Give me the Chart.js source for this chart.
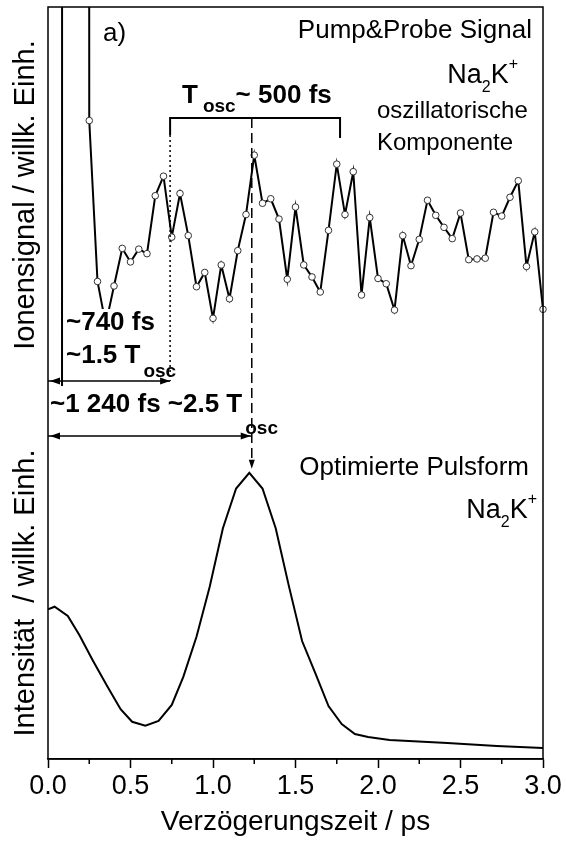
<!DOCTYPE html>
<html>
<head>
<meta charset="utf-8">
<script src="https://cdn.jsdelivr.net/npm/chart.js@4.4.1/dist/chart.umd.min.js"></script>
<style>
  html, body { margin: 0; padding: 0; background: #fff; }
  #wrap { width: 566px; height: 841px; }
</style>
</head>
<body>
<div id="wrap"><canvas id="chart" width="566" height="841"></canvas></div>
<script>
const FONT = '"Liberation Sans", Arial, Helvetica, sans-serif';

// Pump&Probe Signal (Zeit in ps, Ionensignal in willk. Einh.)
// die Werte bei 0.10 - 0.20 liegen weit oberhalb des Bildes
const sigTime = [0.085, 0.10, 0.15, 0.20, 0.25, 0.30, 0.35, 0.40, 0.45, 0.50,
  0.55, 0.60, 0.65, 0.70, 0.75, 0.80, 0.85, 0.90, 0.95, 1.00,
  1.05, 1.10, 1.15, 1.20, 1.25, 1.30, 1.35, 1.40, 1.45, 1.50,
  1.55, 1.60, 1.65, 1.70, 1.75, 1.80, 1.85, 1.90, 1.95, 2.00,
  2.05, 2.10, 2.15, 2.20, 2.25, 2.30, 2.35, 2.40, 2.45, 2.50,
  2.55, 2.60, 2.65, 2.70, 2.75, 2.80, 2.85, 2.90, 2.95, 3.00];
const sigValue = [4.96, 300, 320, 300, 8.49, 6.35, 5.78, 6.29, 6.79, 6.61,
  6.78, 6.72, 7.49, 7.75, 6.94, 7.52, 6.96, 6.28, 6.47, 5.86,
  6.57, 6.12, 6.76, 7.24, 8.03, 7.39, 7.45, 7.18, 6.38, 7.34,
  6.57, 6.41, 6.21, 7.03, 7.91, 7.24, 7.81, 6.17, 7.20, 6.39,
  6.32, 5.97, 6.96, 6.56, 6.91, 7.43, 7.23, 7.07, 6.92, 7.26,
  6.64, 6.65, 6.66, 7.27, 7.22, 7.47, 7.69, 6.55, 7.01, 5.98];

// Optimierte Pulsform (Intensität, auf Maximum normiert)
const pulseTime = [0.00, 0.04, 0.12, 0.19, 0.27, 0.36, 0.44, 0.51, 0.59, 0.67,
  0.75, 0.82, 0.90, 0.98, 1.06, 1.14, 1.22, 1.30, 1.38, 1.46,
  1.54, 1.62, 1.70, 1.78, 1.86, 1.94, 2.07, 2.42, 2.72, 3.00];
const pulseValue = [0.523, 0.532, 0.500, 0.433, 0.346, 0.253, 0.174, 0.130, 0.116, 0.133,
  0.189, 0.287, 0.427, 0.602, 0.806, 0.945, 1.000, 0.945, 0.806, 0.604,
  0.412, 0.300, 0.185, 0.122, 0.087, 0.077, 0.066, 0.056, 0.045, 0.038];

const xTicks = [0.0, 0.5, 1.0, 1.5, 2.0, 2.5, 3.0];
const xMinorTicks = [0.25, 0.75, 1.25, 1.75, 2.25, 2.75];

// Markierungen in ps
const tOscStart = 0.74;
const tOscMid = 1.235;
const tOscEnd = 1.77;

function line(ctx, x1, y1, x2, y2) {
  ctx.beginPath();
  ctx.moveTo(x1, y1);
  ctx.lineTo(x2, y2);
  ctx.stroke();
}

function arrowHead(ctx, x, y, dir) {
  // dir: 'left' | 'right' | 'down'
  ctx.beginPath();
  if (dir === 'left') { ctx.moveTo(x, y); ctx.lineTo(x + 10, y - 3.5); ctx.lineTo(x + 10, y + 3.5); }
  if (dir === 'right') { ctx.moveTo(x, y); ctx.lineTo(x - 10, y - 3.5); ctx.lineTo(x - 10, y + 3.5); }
  if (dir === 'down') { ctx.moveTo(x, y); ctx.lineTo(x - 3, y - 9); ctx.lineTo(x + 3, y - 9); }
  ctx.closePath();
  ctx.fill();
}

// Text aus Teilstücken (für Indizes), parts: [text, font, dy, dx]
function textRuns(ctx, x, y, parts, align) {
  let total = 0;
  parts.forEach(p => { ctx.font = p[1]; total += ctx.measureText(p[0]).width + (p[3] || 0); });
  let cx = align === 'right' ? x - total : x;
  ctx.textAlign = 'left';
  ctx.textBaseline = 'alphabetic';
  parts.forEach(p => {
    ctx.font = p[1];
    cx += p[3] || 0;
    ctx.fillText(p[0], cx, y + (p[2] || 0));
    cx += ctx.measureText(p[0]).width;
  });
}

const annotate = {
  id: 'annotate',
  afterDatasetsDraw(chart) {
    const { ctx, chartArea: a, scales: { x, yPulse } } = chart;
    const px = t => x.getPixelForValue(t);
    ctx.save();
    ctx.strokeStyle = '#000';
    ctx.fillStyle = '#000';

    // Rahmen
    ctx.lineWidth = 1.5;
    ctx.strokeRect(a.left, a.top, a.right - a.left, a.bottom - a.top);

    // Nebenstriche
    xMinorTicks.forEach(t => line(ctx, px(t), a.bottom, px(t), a.bottom + 5));

    // Klammer T_osc
    ctx.lineWidth = 2;
    ctx.beginPath();
    ctx.moveTo(px(tOscStart), 135);
    ctx.lineTo(px(tOscStart), 118);
    ctx.lineTo(px(tOscEnd), 118);
    ctx.lineTo(px(tOscEnd), 138);
    ctx.stroke();

    // gepunktete Linie bei ~740 fs
    ctx.lineWidth = 1.5;
    ctx.setLineDash([2, 3]);
    line(ctx, px(tOscStart), 135, px(tOscStart), 381);

    // gestrichelte Linie zum Pulsmaximum
    const peakY = yPulse.getPixelForValue(1.0);
    ctx.setLineDash([10, 5]);
    line(ctx, px(tOscMid), 118, px(tOscMid), peakY - 12);
    ctx.setLineDash([]);
    arrowHead(ctx, px(tOscMid), peakY - 4, 'down');

    // Doppelpfeile
    ctx.lineWidth = 1.5;
    line(ctx, px(0), 381, px(tOscStart), 381);
    arrowHead(ctx, px(0) + 2, 381, 'left');
    arrowHead(ctx, px(tOscStart), 381, 'right');
    line(ctx, px(0), 436, px(tOscMid), 436);
    arrowHead(ctx, px(0) + 2, 436, 'left');
    arrowHead(ctx, px(tOscMid) - 1, 436, 'right');

    // Texte
    const B = 'bold 26px ' + FONT;
    const BS = 'bold 19px ' + FONT;
    const N = '26px ' + FONT;
    const NS = '16px ' + FONT;

    ctx.fillStyle = '#fff';
    ctx.fillRect(64, 309, 96, 26);
    ctx.fillStyle = '#000';
    textRuns(ctx, 66, 330, [['~740 fs', B]]);
    textRuns(ctx, 66, 363, [['~1.5 T', B], ['osc', BS, 14, 3]]);
    textRuns(ctx, 50, 412, [['~1 240 fs ~2.5 T', B], ['osc', BS, 22, 3]]);
    textRuns(ctx, 182, 103, [['T', B], ['osc', BS, 9, 5], ['~ 500 fs', B]]);

    textRuns(ctx, 103, 41, [['a)', N]]);
    textRuns(ctx, 532, 38, [['Pump&Probe Signal', N]], 'right');
    textRuns(ctx, 518, 83, [['Na', '27px ' + FONT], ['2', NS, 9], ['K', '27px ' + FONT], ['+', NS, -14]], 'right');
    textRuns(ctx, 377, 118, [['oszillatorische', '24px ' + FONT]]);
    textRuns(ctx, 377, 150, [['Komponente', '24px ' + FONT]]);
    textRuns(ctx, 529, 475, [['Optimierte Pulsform', N]], 'right');
    textRuns(ctx, 537, 518, [['Na', '27px ' + FONT], ['2', NS, 9], ['K', '27px ' + FONT], ['+', NS, -14]], 'right');

    // y-Beschriftungen
    ctx.font = '29px ' + FONT;
    ctx.textAlign = 'center';
    ctx.textBaseline = 'alphabetic';
    ctx.translate(34, 195);
    ctx.rotate(-Math.PI / 2);
    ctx.fillText('Ionensignal / willk. Einh.', 0, 0);
    ctx.rotate(Math.PI / 2);
    ctx.translate(0, 398);
    ctx.rotate(-Math.PI / 2);
    ctx.fillText('Intensität  / willk. Einh.', 0, 0);
    ctx.restore();
  }
};

const ctx = document.getElementById('chart').getContext('2d');
new Chart(ctx, {
  type: 'line',
  data: {
    datasets: [
      {
        label: 'Pump&Probe Signal',
        data: sigTime.map((t, i) => ({ x: t, y: sigValue[i] })),
        yAxisID: 'ySig',
        borderColor: '#000',
        borderWidth: 2,
        pointRadius: c => (c.dataIndex === 0 ? 0 : 3.3),
        pointBackgroundColor: '#fff',
        pointBorderColor: '#333',
        pointBorderWidth: 1,
        tension: 0,
        clip: { left: 0, top: 0, right: 6, bottom: 0 }
      },
      {
        label: 'Optimierte Pulsform',
        data: pulseTime.map((t, i) => ({ x: t, y: pulseValue[i] })),
        yAxisID: 'yPulse',
        borderColor: '#000',
        borderWidth: 2,
        pointRadius: 0,
        tension: 0
      }
    ]
  },
  options: {
    responsive: false,
    animation: false,
    devicePixelRatio: 1,
    layout: { padding: { left: 48, right: 23, top: 7, bottom: 0 } },
    plugins: { legend: { display: false }, tooltip: { enabled: false } },
    scales: {
      x: {
        type: 'linear',
        min: 0,
        max: 3,
        afterBuildTicks: s => { s.ticks = xTicks.map(v => ({ value: v })); },
        afterFit: s => { s.height = 82; },
        grid: { drawOnChartArea: false, drawTicks: true, tickLength: 9, tickWidth: 1.5, tickColor: '#000' },
        border: { display: true, color: '#000', width: 1.5 },
        ticks: {
          color: '#000',
          padding: 2,
          maxRotation: 0,
          autoSkip: false,
          font: { family: FONT, size: 27 },
          callback: v => v.toFixed(1)
        },
        title: {
          display: true,
          text: 'Verzögerungszeit / ps',
          color: '#000',
          font: { family: FONT, size: 28 },
          padding: { top: 0, bottom: 2 }
        }
      },
      ySig: { type: 'linear', display: false, min: 0, max: 10 },
      yPulse: { type: 'linear', display: false, min: 0, max: 2.627 }
    }
  },
  plugins: [annotate]
});
</script>
</body>
</html>
